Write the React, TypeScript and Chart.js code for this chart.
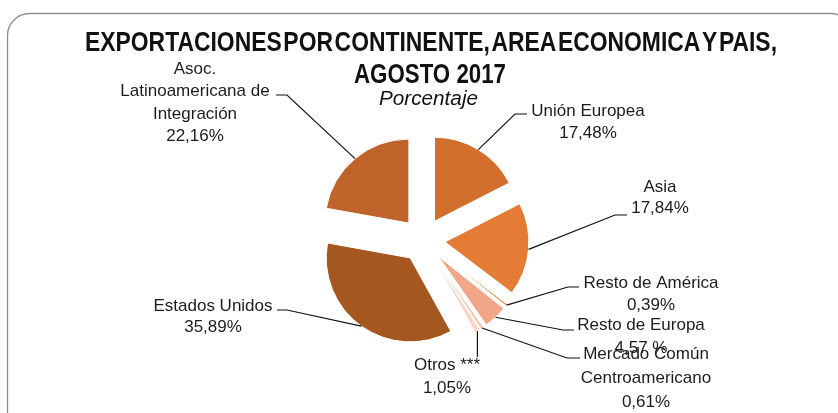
import React, { useEffect, useRef } from 'react';
import { Chart, registerables } from 'chart.js';

Chart.register(...registerables);

// ---- data ----
const categories = [
  'Unión Europea',
  'Asia',
  'Resto de América',
  'Resto de Europa',
  'Mercado Común Centroamericano',
  'Otros ***',
  'Estados Unidos',
  'Asoc. Latinoamericana de Integración',
];
const shares = [17.48, 17.84, 0.39, 4.57, 0.61, 1.05, 35.89, 22.16];
const shareLabels = ['17,48%', '17,84%', '0,39%', '4,57 %', '0,61%', '1,05%', '35,89%', '22,16%'];
const labelLines = [
  ['Unión Europea'],
  ['Asia'],
  ['Resto de América'],
  ['Resto de Europa'],
  ['Mercado Común', 'Centroamericano'],
  ['Otros ***'],
  ['Estados Unidos'],
  ['Asoc.', 'Latinoamericana de', 'Integración'],
];
const sliceColors = ['#D26F2D', '#E47C35', '#E7813A', '#F0A687', '#F5C4AC', '#F8D5C5', '#A55720', '#C0632A'];
const titleLines = ['EXPORTACIONES POR CONTINENTE, AREA ECONOMICA Y PAIS,', 'AGOSTO 2017'];
const subtitle = 'Porcentaje';

// ---- layout (label placement, not data) ----
const EXPLODE = 22; // px displacement of slices
const RADIUS = 84;
type LabelPos = { ex: number | null; ey: number; hx: number | null; tx: number; ty: number; lh: number };
const labelLayout: LabelPos[] = [
  { ex: 515, ey: 114, hx: 527, tx: 588, ty: 116, lh: 21.7 },
  { ex: 615, ey: 215, hx: 627, tx: 660, ty: 191.7, lh: 21.6 },
  { ex: 568, ey: 287, hx: 579, tx: 651, ty: 288, lh: 22 },
  { ex: 563, ey: 330, hx: 574, tx: 641, ty: 330, lh: 23 },
  { ex: 567, ey: 358, hx: 580, tx: 646, ty: 359, lh: 24 },
  { ex: null, ey: 357, hx: null, tx: 447, ty: 370, lh: 23 },
  { ex: 287, ey: 310, hx: 277, tx: 213, ty: 310.7, lh: 21.6 },
  { ex: 287, ey: 95, hx: 276, tx: 195, ty: 74, lh: 22.3 },
];

function drawFitted(ctx: CanvasRenderingContext2D, text: string, cx: number, y: number, font: string, width: number, gap?: number) {
  ctx.save();
  ctx.font = font;
  ctx.textAlign = 'left';
  ctx.textBaseline = 'alphabetic';
  const words = gap === undefined ? [text] : text.split(' ');
  const g = gap || 0;
  const ws = words.map((w) => ctx.measureText(w).width);
  const total = ws.reduce((a, b) => a + b, 0) + g * (words.length - 1);
  const s = width / total;
  ctx.translate(cx - width / 2, y);
  ctx.scale(s, 1);
  let x = 0;
  words.forEach((w, i) => {
    ctx.fillText(w, x, 0);
    x += ws[i] + g;
  });
  ctx.restore();
}

const explodePlugin = {
  id: 'explode',
  afterDatasetsUpdate(chart: any) {
    const meta = chart.getDatasetMeta(0);
    const cx = (chart.chartArea.left + chart.chartArea.right) / 2;
    const cy = (chart.chartArea.top + chart.chartArea.bottom) / 2;
    meta.data.forEach((el: any) => {
      const mid = (el.startAngle + el.endAngle) / 2;
      el.x = cx + Math.cos(mid) * EXPLODE;
      el.y = cy + Math.sin(mid) * EXPLODE;
    });
  },
};

const decorPlugin = {
  id: 'decor',
  beforeDraw(chart: any) {
    const ctx: CanvasRenderingContext2D = chart.ctx;
    ctx.save();
    ctx.fillStyle = '#ffffff';
    ctx.fillRect(0, 0, chart.width, chart.height);
    const x = 7.5, y = 13.5, w = 845, h = 430, r = 22;
    ctx.beginPath();
    ctx.moveTo(x + r, y);
    ctx.lineTo(x + w - r, y);
    ctx.arcTo(x + w, y, x + w, y + r, r);
    ctx.lineTo(x + w, y + h);
    ctx.lineTo(x, y + h);
    ctx.lineTo(x, y + r);
    ctx.arcTo(x, y, x + r, y, r);
    ctx.closePath();
    ctx.strokeStyle = '#8e8e8e';
    ctx.lineWidth = 1.3;
    ctx.stroke();
    ctx.restore();
  },
  afterDraw(chart: any) {
    const ctx: CanvasRenderingContext2D = chart.ctx;
    ctx.save();
    ctx.fillStyle = '#111111';
    drawFitted(ctx, titleLines[0], 431, 51, 'bold 28px "Liberation Sans", Arial, sans-serif', 692, 2);
    drawFitted(ctx, titleLines[1], 430, 83, 'bold 28px "Liberation Sans", Arial, sans-serif', 152);
    drawFitted(ctx, subtitle, 428.5, 105, 'italic 20px "Liberation Sans", Arial, sans-serif', 99);

    const meta = chart.getDatasetMeta(0);
    ctx.strokeStyle = '#111111';
    ctx.lineWidth = 1.2;
    meta.data.forEach((el: any, i: number) => {
      const mid = (el.startAngle + el.endAngle) / 2;
      const sx = el.x + Math.cos(mid) * RADIUS;
      const sy = el.y + Math.sin(mid) * RADIUS;
      const L = labelLayout[i];
      const ex = L.ex === null ? sx : L.ex;
      const hx = L.hx === null ? ex : L.hx;
      ctx.beginPath();
      ctx.moveTo(sx, sy);
      ctx.lineTo(ex, L.ey);
      ctx.lineTo(hx, L.ey);
      ctx.stroke();
    });
    ctx.fillStyle = '#1c1c1c';
    ctx.font = '17px "Liberation Sans", Arial, sans-serif';
    ctx.textAlign = 'center';
    ctx.textBaseline = 'alphabetic';
    meta.data.forEach((_el: any, i: number) => {
      const L = labelLayout[i];
      const lines = [...labelLines[i], shareLabels[i]];
      lines.forEach((t, k) => ctx.fillText(t, L.tx, L.ty + k * L.lh));
    });
    ctx.restore();
  },
};

export default function App() {
  const ref = useRef<HTMLCanvasElement | null>(null);
  useEffect(() => {
    if (!ref.current) return;
    const chart = new Chart(ref.current, {
      type: 'pie',
      data: {
        labels: categories,
        datasets: [
          {
            data: shares,
            backgroundColor: sliceColors,
            borderWidth: 1,
            borderColor: '#ffffff',
            radius: RADIUS,
          } as any,
        ],
      },
      options: {
        responsive: false,
        animation: false,
        events: [],
        layout: { padding: { left: 8, right: 0, top: 67, bottom: 0 } },
        plugins: { legend: { display: false }, tooltip: { enabled: false }, title: { display: false } },
      } as any,
      plugins: [explodePlugin, decorPlugin],
    });
    return () => chart.destroy();
  }, []);
  return (
    <div style={{ position: 'absolute', left: 0, top: 0, width: 838, height: 413 }}>
      <canvas ref={ref} width={838} height={413} style={{ display: 'block' }} />
    </div>
  );
}
